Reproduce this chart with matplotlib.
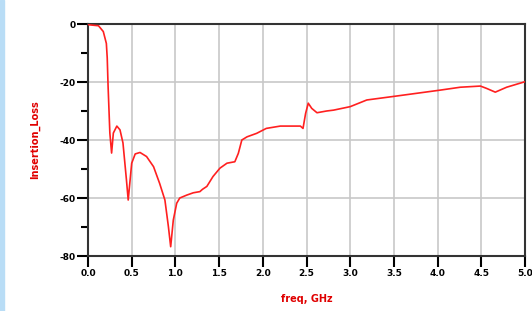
import matplotlib
matplotlib.use("Agg")
import matplotlib.pyplot as plt
from matplotlib.ticker import MultipleLocator

freq = [0.0, 0.02, 0.12, 0.175, 0.21, 0.22, 0.23, 0.25, 0.27, 0.29, 0.33, 0.366, 0.40, 0.44,
        0.46, 0.50, 0.54, 0.595, 0.67, 0.75, 0.82, 0.88, 0.92, 0.946, 0.976, 1.015, 1.05,
        1.13, 1.205, 1.28, 1.31, 1.36, 1.43, 1.51, 1.59, 1.68, 1.72, 1.76, 1.82, 1.93, 2.04,
        2.2, 2.43, 2.46, 2.49, 2.52, 2.56, 2.62, 2.73, 2.81, 3.0, 3.19, 3.49, 3.76, 4.03,
        4.26, 4.49, 4.56, 4.66, 4.79, 5.0]
insertion_loss = [-0.2, -0.3, -0.6, -2.6, -6.7, -11.7, -21.6, -37.6, -44.5, -37.6, -35.2, -36.5,
                  -41.0, -53.8, -60.7, -48.0, -44.8, -44.3, -45.7, -49.2, -55.0, -60.7, -69.9,
                  -76.8, -67.6, -61.8, -60.0, -59.0, -58.2, -57.8, -57.0, -56.0, -52.6, -49.7,
                  -48.0, -47.5, -44.6, -40.0, -38.9, -37.7, -36.0, -35.2, -35.2, -36.0, -30.8,
                  -27.3, -29.1, -30.6, -30.0, -29.7, -28.5, -26.2, -25.0, -23.9, -22.8, -21.8,
                  -21.4, -22.2, -23.5, -21.8, -19.9]
xticks = [0.0, 0.5, 1.0, 1.5, 2.0, 2.5, 3.0, 3.5, 4.0, 4.5, 5.0]
yticks = [-80, -60, -40, -20, 0]

fig = plt.figure(figsize=(5.32, 3.11), dpi=100)
fig.patches.append(plt.Rectangle((0, 0), 4/532, 1, transform=fig.transFigure,
                                 color="#b9ddf6", zorder=0))
ax = fig.add_axes([88/532, 1 - 256/311, (525 - 88)/532, (256 - 24)/311])
ax.plot(freq, insertion_loss, color="#ff2020", lw=1.2, zorder=3)
ax.set_xlim(0, 5)
ax.set_ylim(-80, 0)
ax.set_xticks(xticks)
ax.set_xticklabels([f"{v:.1f}" for v in xticks])
ax.set_yticks(yticks)
ax.set_yticklabels([f"{v}" for v in yticks])
ax.yaxis.set_minor_locator(MultipleLocator(10))
ax.grid(True, which="major", color="#c8c8c8", lw=1.2)
ax.set_axisbelow(True)
for s in ax.spines.values():
    s.set_color("#333333")
    s.set_linewidth(1.5)
ax.tick_params(axis="both", which="major", length=8, width=1.5, direction="out",
               labelsize=6.5, pad=1, colors="black")
ax.tick_params(axis="y", which="minor", length=5, width=1.5, direction="out")
for lab in ax.get_xticklabels() + ax.get_yticklabels():
    lab.set_fontweight("bold")
ax.set_xlabel("freq, GHz", color="#e00000", fontsize=7, fontweight="bold", labelpad=12)
ax.set_ylabel("Insertion_Loss", color="#e00000", fontsize=7, fontweight="bold", labelpad=14)
fig.savefig("out.png", dpi=100)
